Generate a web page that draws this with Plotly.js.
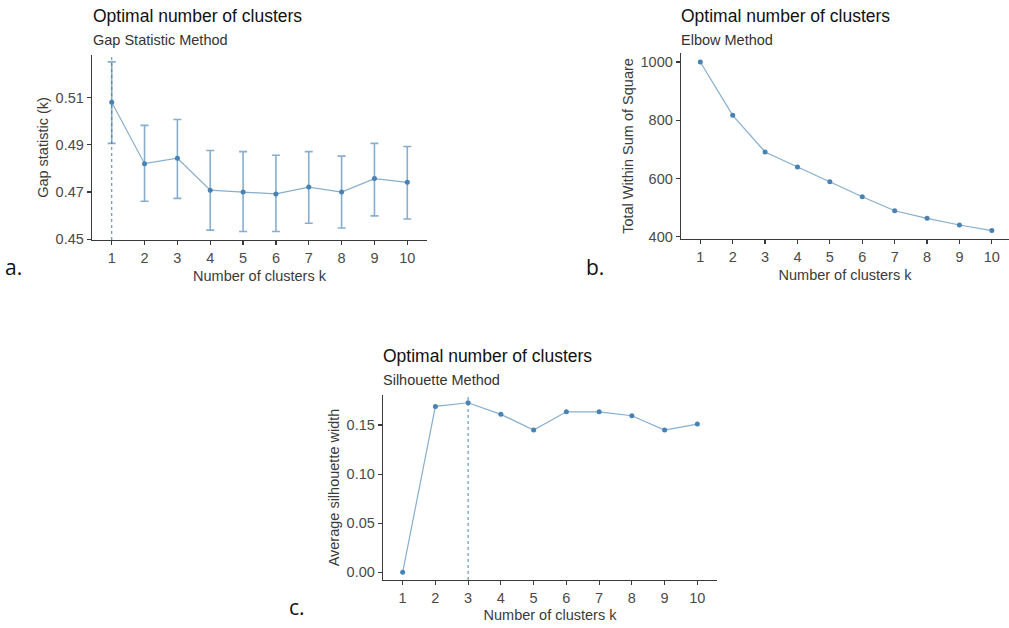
<!DOCTYPE html>
<html>
<head>
<meta charset="utf-8">
<script src="https://cdn.plot.ly/plotly-3.0.1.min.js"></script>
<style>html,body{margin:0;padding:0;background:#fff;}#chart{width:1009px;height:628px;}</style>
</head>
<body>
<div id="chart"></div>
<script>
// ---- data ----
var clustersK = [1, 2, 3, 4, 5, 6, 7, 8, 9, 10];
var kTickLabels = ["1", "2", "3", "4", "5", "6", "7", "8", "9", "10"];

// a. Gap statistic
var gapValues = [0.508, 0.482, 0.4843, 0.4708, 0.470, 0.4692, 0.4721, 0.470, 0.4757, 0.4741];
var gapUpper  = [0.5251, 0.4982, 0.5007, 0.4876, 0.4871, 0.4856, 0.4871, 0.4852, 0.4906, 0.4893];
var gapLower  = [0.4906, 0.4661, 0.4673, 0.4539, 0.4533, 0.4533, 0.4568, 0.4548, 0.4599, 0.4586];
var gapOptimalK = 1;
var gapTicks = [0.45, 0.47, 0.49, 0.51];

// b. Elbow
var wssValues = [1000, 817, 691, 639, 589, 537, 489, 463, 440, 421];
var wssTicks = [400, 600, 800, 1000];

// c. Silhouette
var silValues = [0.000, 0.169, 0.1727, 0.1609, 0.1449, 0.1635, 0.1635, 0.1595, 0.1449, 0.151];
var silOptimalK = 3;
var silTicks = [0.00, 0.05, 0.10, 0.15];

var mainTitle = "Optimal number of clusters";
var subTitles = ["Gap Statistic Method", "Elbow Method", "Silhouette Method"];
var xTitle = "Number of clusters k";
var yTitles = ["Gap statistic (k)", "Total Within Sum of Square", "Average silhouette width"];
var panelLabels = ["a.", "b.", "c."];

// ---- styling helpers ----
var W = 1009, H = 628;
var FONT = "Liberation Sans, Arial, Helvetica, sans-serif";
var BLUE = "#4682B4";
var LINE = "rgba(70,130,180,0.65)";
function px(x) { return x / W; }
function py(y) { return 1 - y / H; }

var errPlus = gapUpper.map(function (u, i) { return u - gapValues[i]; });
var errMinus = gapLower.map(function (l, i) { return gapValues[i] - l; });

var traces = [
  {
    x: clustersK, y: gapValues, xaxis: "x", yaxis: "y", type: "scatter", mode: "lines+markers",
    line: { color: LINE, width: 1.2 }, marker: { color: BLUE, size: 5 },
    error_y: { type: "data", symmetric: false, array: errPlus, arrayminus: errMinus,
               color: LINE, thickness: 1.6, width: 4 },
    showlegend: false
  },
  {
    x: clustersK, y: wssValues, xaxis: "x2", yaxis: "y2", type: "scatter", mode: "lines+markers",
    line: { color: LINE, width: 1.2 }, marker: { color: BLUE, size: 5 },
    showlegend: false
  },
  {
    x: clustersK, y: silValues, xaxis: "x3", yaxis: "y3", type: "scatter", mode: "lines+markers",
    line: { color: LINE, width: 1.2 }, marker: { color: BLUE, size: 5 },
    showlegend: false
  }
];

function xAxis(domain, range, anchor, standoff) {
  return {
    domain: domain, range: range, anchor: anchor,
    tickmode: "array", tickvals: clustersK, ticktext: kTickLabels,
    showline: true, linecolor: "#3a3a3a", linewidth: 1.3, mirror: false,
    ticks: "outside", ticklen: 4, tickwidth: 1.2, tickcolor: "#3a3a3a",
    showgrid: false, zeroline: false,
    tickfont: { family: FONT, size: 14.5, color: "#4a4a4a" },
    title: { text: xTitle, font: { family: FONT, size: 14.5, color: "#3a3a3a" }, standoff: standoff },
    fixedrange: true
  };
}
function yAxis(domain, range, anchor, ticks, fmt, title) {
  return {
    domain: domain, range: range, anchor: anchor,
    tickmode: "array", tickvals: ticks, tickformat: fmt,
    showline: true, linecolor: "#3a3a3a", linewidth: 1.3, mirror: false,
    ticks: "outside", ticklen: 4, tickwidth: 1.2, tickcolor: "#3a3a3a",
    showgrid: false, zeroline: false,
    tickfont: { family: FONT, size: 14.5, color: "#4a4a4a" },
    title: { text: title, font: { family: FONT, size: 14.5, color: "#3a3a3a" }, standoff: 3 },
    fixedrange: true
  };
}

var layout = {
  width: W, height: H,
  margin: { l: 0, r: 0, t: 0, b: 0 },
  paper_bgcolor: "#ffffff", plot_bgcolor: "#ffffff",
  font: { family: FONT, color: "#333" },
  showlegend: false,
  xaxis: xAxis([px(92), px(427)], [0.4, 10.6], "y", 6),
  yaxis: yAxis([py(240), py(55)], [0.4497, 0.528], "x", gapTicks, ".2f", yTitles[0]),
  xaxis2: xAxis([px(681), 1], [0.404, 10.53], "y2", 6),
  yaxis2: yAxis([py(239), py(53)], [392, 1031], "x2", wssTicks, "d", yTitles[1]),
  xaxis3: xAxis([px(383), px(717)], [0.4, 10.6], "y3", 5),
  yaxis3: yAxis([py(580), py(395)], [-0.0078, 0.1806], "x3", silTicks, ".2f", yTitles[2]),
  shapes: [
    { type: "line", xref: "x", yref: "y domain", x0: gapOptimalK, x1: gapOptimalK, y0: 0, y1: 1,
      line: { color: "rgba(70,130,180,0.9)", width: 1.1, dash: "3px,3px" } },
    { type: "line", xref: "x3", yref: "y3 domain", x0: silOptimalK, x1: silOptimalK, y0: 0, y1: 1,
      line: { color: "rgba(70,130,180,0.7)", width: 1.4, dash: "3px,3px" } }
  ],
  annotations: []
};

var titlePos = [[91, 16, 40], [679, 16, 40], [381, 356, 380]];
titlePos.forEach(function (p, i) {
  layout.annotations.push({ xref: "paper", yref: "paper", x: px(p[0]), y: py(p[1]), xanchor: "left", yanchor: "middle",
    text: mainTitle, showarrow: false, font: { family: FONT, size: 17.5, color: "#111" } });
  layout.annotations.push({ xref: "paper", yref: "paper", x: px(p[0]), y: py(p[2]), xanchor: "left", yanchor: "middle",
    text: subTitles[i], showarrow: false, font: { family: FONT, size: 14.5, color: "#333" } });
});
var labelPos = [[3, 267], [584, 267], [287, 607]];
labelPos.forEach(function (p, i) {
  layout.annotations.push({ xref: "paper", yref: "paper", x: px(p[0]), y: py(p[1]), xanchor: "left", yanchor: "middle",
    text: panelLabels[i], showarrow: false, font: { family: "Open Sans, Liberation Sans, sans-serif", size: 21, color: "#111" } });
});

Plotly.newPlot("chart", traces, layout, { displayModeBar: false, staticPlot: true });
</script>
</body>
</html>
